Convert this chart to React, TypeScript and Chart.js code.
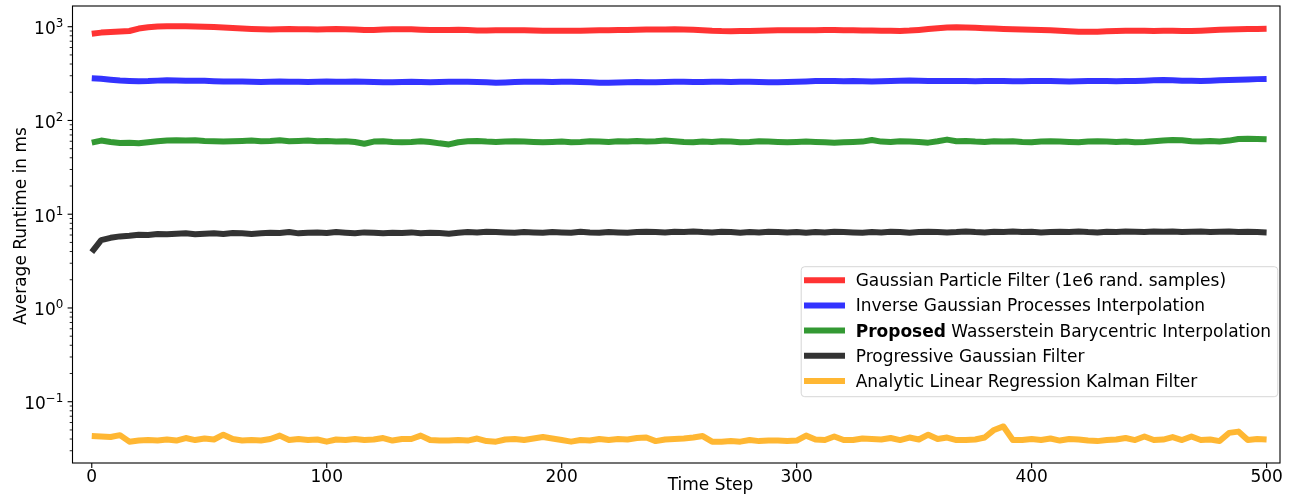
import React, { useEffect, useRef } from 'react';
import { Chart, registerables } from 'chart.js';

Chart.register(...registerables);

const timeSteps = [
  0, 4, 8, 12, 16, 20, 24, 28, 32, 36,
  40, 44, 48, 52, 56, 60, 64, 68, 72, 76,
  80, 84, 88, 92, 96, 100, 104, 108, 112, 116,
  120, 124, 128, 132, 136, 140, 144, 148, 152, 156,
  160, 164, 168, 172, 176, 180, 184, 188, 192, 196,
  200, 204, 208, 212, 216, 220, 224, 228, 232, 236,
  240, 244, 248, 252, 256, 260, 264, 268, 272, 276,
  280, 284, 288, 292, 296, 300, 304, 308, 312, 316,
  320, 324, 328, 332, 336, 340, 344, 348, 352, 356,
  360, 364, 368, 372, 376, 380, 384, 388, 392, 396,
  400, 404, 408, 412, 416, 420, 424, 428, 432, 436,
  440, 444, 448, 452, 456, 460, 464, 468, 472, 476,
  480, 484, 488, 492, 496, 500,
];

const particleFilter = [
  840, 865, 880, 890, 900, 955, 985, 1005, 1010, 1012,
  1012, 1008, 1000, 990, 980, 968, 958, 948, 940, 935,
  940, 945, 942, 938, 935, 938, 945, 942, 935, 922,
  925, 932, 938, 942, 938, 930, 925, 920, 922, 928,
  920, 912, 910, 914, 918, 918, 914, 910, 905, 908,
  908, 905, 908, 912, 914, 918, 922, 924, 928, 932,
  932, 934, 938, 934, 928, 918, 905, 898, 896, 898,
  902, 905, 910, 914, 918, 916, 914, 916, 920, 920,
  918, 915, 912, 910, 907, 905, 902, 910, 925, 945,
  965, 980, 985, 982, 975, 965, 955, 948, 940, 932,
  928, 925, 918, 908, 896, 886, 882, 885, 892, 900,
  905, 906, 904, 902, 904, 906, 902, 900, 908, 918,
  928, 935, 940, 944, 947, 950,
];

const inverseGP = [
  282, 278, 272, 267, 264, 262, 263, 266, 268, 267,
  265, 266, 265, 262, 260, 261, 260, 258, 257, 258,
  260, 259, 258, 257, 258, 260, 259, 258, 260, 258,
  257, 255, 256, 257, 258, 257, 256, 257, 258, 259,
  258, 257, 255, 252, 254, 257, 258, 259, 258, 257,
  258, 259, 257, 255, 253, 252, 254, 256, 257, 256,
  256, 257, 258, 258, 257, 257, 258, 258, 257, 258,
  258, 257, 256, 255, 257, 259, 261, 263, 264, 263,
  262, 263, 262, 261, 262, 264, 266, 267, 265, 264,
  263, 264, 264, 263, 262, 263, 264, 263, 262, 262,
  263, 264, 263, 262, 261, 262, 263, 264, 263, 262,
  263, 264, 266, 268, 270, 268, 266, 265, 264, 266,
  268, 270, 272, 274, 276, 277,
];

const proposedWasserstein = [
  58, 61, 59, 57.5, 58, 57, 58.5, 60, 61, 61.5,
  61, 61.5, 60.5, 60, 59.5, 60, 60.5, 61, 60, 60.5,
  61.5, 60, 60.5, 61, 60, 60.5, 59.5, 60, 59, 56.5,
  59.5, 60, 59, 58.5, 59, 60, 59, 57, 55.5, 58.5,
  60, 60.5, 59.5, 59, 59.5, 60, 59.5, 59, 58.5, 59,
  59.5, 58.5, 59, 60, 59.5, 59, 60, 59.5, 60.5, 59.5,
  60, 61, 60, 59, 58.5, 59.5, 59, 60, 59.5, 58.5,
  59, 60, 59.5, 59, 58.5, 59, 59.5, 59, 58.5, 58,
  58.5, 59, 59.5, 62, 59.5, 59, 60, 59.5, 59, 58,
  60, 62.5, 60, 60.5, 59.5, 59, 60, 59.5, 60, 59,
  58.5, 59.5, 60, 59.5, 59, 58.5, 59.5, 60, 59.5, 59,
  59.5, 58.5, 59, 60, 61, 62, 61.5, 60, 59.5, 60.5,
  59.5, 61, 63.5, 64, 63.5, 63,
];

const progressiveGaussian = [
  3.95, 5.3, 5.6, 5.8, 5.9, 6.05, 6.0, 6.15, 6.1, 6.2,
  6.25, 6.1, 6.2, 6.25, 6.15, 6.3, 6.25, 6.15, 6.25, 6.35,
  6.3, 6.45, 6.25, 6.35, 6.4, 6.3, 6.45, 6.35, 6.25, 6.4,
  6.35, 6.25, 6.35, 6.3, 6.4, 6.25, 6.35, 6.3, 6.2, 6.35,
  6.45, 6.4, 6.5, 6.45, 6.4, 6.35, 6.45, 6.4, 6.35, 6.45,
  6.4, 6.35, 6.5, 6.4, 6.35, 6.45, 6.4, 6.35, 6.45, 6.5,
  6.45, 6.4, 6.5, 6.45, 6.55, 6.45, 6.4, 6.5, 6.45, 6.35,
  6.45, 6.4, 6.5, 6.45, 6.4, 6.45, 6.35, 6.45, 6.4, 6.5,
  6.45, 6.4, 6.35, 6.45, 6.4, 6.5, 6.45, 6.35, 6.45, 6.5,
  6.45, 6.4, 6.45, 6.55, 6.45, 6.4, 6.5, 6.45, 6.55, 6.45,
  6.5, 6.4, 6.45, 6.5, 6.45, 6.55, 6.45, 6.4, 6.5, 6.45,
  6.55, 6.5, 6.45, 6.55, 6.5, 6.55, 6.45, 6.5, 6.55, 6.45,
  6.5, 6.55, 6.45, 6.5, 6.45, 6.4,
];

const analyticKalman = [
  0.043, 0.0425, 0.042, 0.044, 0.0375, 0.0385, 0.039, 0.0385, 0.0395, 0.0385,
  0.041, 0.039, 0.0405, 0.0395, 0.0445, 0.04, 0.0385, 0.039, 0.0385, 0.04,
  0.0435, 0.039, 0.04, 0.039, 0.0395, 0.0375, 0.0395, 0.039, 0.04, 0.039,
  0.0395, 0.041, 0.0385, 0.04, 0.04, 0.0435, 0.039, 0.0385, 0.0385, 0.039,
  0.0385, 0.0405, 0.038, 0.0375, 0.0395, 0.04, 0.039, 0.0405, 0.042, 0.0405,
  0.039, 0.0375, 0.039, 0.0385, 0.04, 0.039, 0.04, 0.0395, 0.041, 0.0415,
  0.038, 0.0395, 0.04, 0.0405, 0.0415, 0.043, 0.0375, 0.0375, 0.038, 0.0375,
  0.039, 0.038, 0.0385, 0.0385, 0.038, 0.0385, 0.0435, 0.0395, 0.039, 0.0425,
  0.039, 0.039, 0.0405, 0.04, 0.0395, 0.041, 0.039, 0.0415, 0.0395, 0.0445,
  0.04, 0.0415, 0.039, 0.039, 0.0395, 0.0415, 0.05, 0.0545, 0.039, 0.039,
  0.04, 0.039, 0.0405, 0.0385, 0.04, 0.0395, 0.0385, 0.038, 0.039, 0.0395,
  0.041, 0.039, 0.0425, 0.039, 0.0395, 0.042, 0.039, 0.0425, 0.039, 0.0395,
  0.038, 0.0465, 0.048, 0.039, 0.04, 0.0395,
];

const seriesLabels = [
  'Gaussian Particle Filter (1e6 rand. samples)',
  'Inverse Gaussian Processes Interpolation',
  'Proposed Wasserstein Barycentric Interpolation',
  'Progressive Gaussian Filter',
  'Analytic Linear Regression Kalman Filter',
];
const boldPrefixes = ['', '', 'Proposed', '', ''];
const seriesColors = [
  'rgba(255,0,0,0.8)',
  'rgba(0,0,255,0.8)',
  'rgba(0,128,0,0.8)',
  'rgba(0,0,0,0.8)',
  'rgba(255,165,0,0.8)',
];
const seriesValues = [particleFilter, inverseGP, proposedWasserstein, progressiveGaussian, analyticKalman];

const xTicks = [0, 100, 200, 300, 400, 500];
const yDecades = [-2, -1, 0, 1, 2, 3];
const xTitle = 'Time Step';
const yTitle = 'Average Runtime in ms';

const FONT = '"DejaVu Sans", "Liberation Sans", sans-serif';
const FS = 17;

const decorPlugin = {
  id: 'mplDecor',
  afterDatasetsDraw(chart: any) {
    const ctx: CanvasRenderingContext2D = chart.ctx;
    const { left, right, top, bottom } = chart.chartArea;
    const xs = chart.scales.x;
    const ys = chart.scales.y;
    ctx.save();

    // spines
    ctx.strokeStyle = '#000';
    ctx.lineWidth = 1.1;
    ctx.strokeRect(left, top, right - left, bottom - top);

    // x ticks + labels
    ctx.fillStyle = '#000';
    ctx.font = `${FS}px ${FONT}`;
    ctx.textAlign = 'center';
    ctx.textBaseline = 'alphabetic';
    for (const t of xTicks) {
      const px = xs.getPixelForValue(t);
      ctx.beginPath();
      ctx.lineWidth = 1.1;
      ctx.moveTo(px, bottom);
      ctx.lineTo(px, bottom + 4.9);
      ctx.stroke();
      ctx.fillText(String(t), px, bottom + 19.3);
    }

    // y ticks (major + minor) and labels
    for (const e of yDecades) {
      for (let m = 1; m <= 9; m++) {
        const v = m * Math.pow(10, e);
        if (v < ys.min || v > ys.max) continue;
        const py = ys.getPixelForValue(v);
        const major = m === 1;
        ctx.beginPath();
        ctx.lineWidth = major ? 1.1 : 0.85;
        ctx.moveTo(left, py);
        ctx.lineTo(left - (major ? 4.9 : 2.8), py);
        ctx.stroke();
        if (major) {
          const expStr = e < 0 ? '\u2212' + String(-e) : String(e);
          ctx.font = `${FS}px ${FONT}`;
          const wBase = ctx.measureText('10').width;
          ctx.font = `${FS * 0.7}px ${FONT}`;
          const wExp = ctx.measureText(expStr).width;
          const rightEdge = left - 9.2;
          const x0 = rightEdge - wExp - wBase;
          ctx.textAlign = 'left';
          ctx.font = `${FS}px ${FONT}`;
          ctx.fillText('10', x0, py + 7.5);
          ctx.font = `${FS * 0.7}px ${FONT}`;
          ctx.fillText(expStr, x0 + wBase, py + 0.3);
        }
      }
    }

    // axis titles
    ctx.font = `${FS}px ${FONT}`;
    ctx.textAlign = 'center';
    ctx.fillText(xTitle, left + 638, bottom + 27.4);
    ctx.save();
    ctx.translate(left - 46.8, top + 220);
    ctx.rotate(-Math.PI / 2);
    ctx.fillText(yTitle, 0, 0);
    ctx.restore();

    // legend
    const bx = left + 728.7;
    const by = top + 260.7;
    const bw = 476.6;
    const bh = 130;
    const r = 3.5;
    ctx.beginPath();
    ctx.moveTo(bx + r, by);
    ctx.lineTo(bx + bw - r, by);
    ctx.arcTo(bx + bw, by, bx + bw, by + r, r);
    ctx.lineTo(bx + bw, by + bh - r);
    ctx.arcTo(bx + bw, by + bh, bx + bw - r, by + bh, r);
    ctx.lineTo(bx + r, by + bh);
    ctx.arcTo(bx, by + bh, bx, by + bh - r, r);
    ctx.lineTo(bx, by + r);
    ctx.arcTo(bx, by, bx + r, by, r);
    ctx.closePath();
    ctx.fillStyle = 'rgba(255,255,255,0.8)';
    ctx.fill();
    ctx.strokeStyle = 'rgba(204,204,204,0.8)';
    ctx.lineWidth = 1;
    ctx.stroke();

    chart.data.datasets.forEach((ds: any, i: number) => {
      const cy = by + 13.6 + i * 25.15;
      ctx.beginPath();
      ctx.strokeStyle = ds.borderColor;
      ctx.lineWidth = 6;
      ctx.lineCap = 'butt';
      ctx.moveTo(bx + 2.8, cy);
      ctx.lineTo(bx + 43.8, cy);
      ctx.stroke();
      ctx.fillStyle = '#000';
      ctx.textAlign = 'left';
      let tx = bx + 54.5;
      const label: string = ds.label;
      const bold = boldPrefixes[i];
      let rest = label;
      if (bold && label.startsWith(bold)) {
        ctx.font = `bold ${FS}px ${FONT}`;
        ctx.fillText(bold, tx, cy + 6);
        tx += ctx.measureText(bold).width;
        rest = label.slice(bold.length);
      }
      ctx.font = `${FS}px ${FONT}`;
      ctx.fillText(rest, tx, cy + 6);
    });

    ctx.restore();
  },
};

export default function App() {
  const canvasRef = useRef<HTMLCanvasElement | null>(null);

  useEffect(() => {
    const canvas = canvasRef.current;
    if (!canvas) return;
    const datasets = seriesValues.map((vals, i) => ({
      label: seriesLabels[i],
      data: timeSteps.map((s, j) => ({ x: s, y: vals[j] })),
      borderColor: seriesColors[i],
      backgroundColor: seriesColors[i],
      borderWidth: 6,
      pointRadius: 0,
      pointHoverRadius: 0,
      borderJoinStyle: 'round' as const,
      borderCapStyle: 'butt' as const,
      tension: 0,
      fill: false,
    }));
    const chart = new Chart(canvas, {
      type: 'line',
      data: { datasets },
      options: {
        animation: false,
        responsive: false,
        devicePixelRatio: 1,
        events: [],
        layout: { padding: { left: 72.5, right: 13, top: 6, bottom: 32 } },
        scales: {
          x: { type: 'linear', min: -8.2, max: 505.7, display: false },
          y: { type: 'logarithmic', min: 0.0222, max: 1663, display: false },
        },
        plugins: {
          legend: { display: false },
          tooltip: { enabled: false },
        },
      },
      plugins: [decorPlugin],
    });
    return () => chart.destroy();
  }, []);

  return (
    <div style={{ position: 'absolute', left: 0, top: 0, width: 1293, height: 495, background: '#fff' }}>
      <canvas ref={canvasRef} width={1293} height={495} style={{ display: 'block' }} />
    </div>
  );
}
